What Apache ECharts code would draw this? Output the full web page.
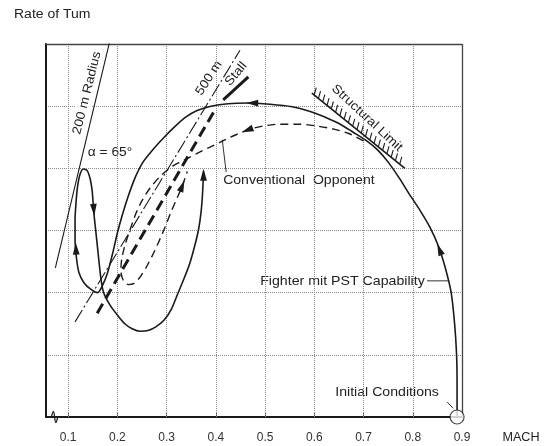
<!DOCTYPE html>
<html><head><meta charset="utf-8">
<script src="https://cdn.jsdelivr.net/npm/echarts@6/dist/echarts.min.js"></script>
<style>html,body{margin:0;padding:0;background:#fff}#c{width:546px;height:446px}</style>
</head><body><div id="c"></div>
<script>
// ---- tick / grid values ----
const machTicks = [0.1,0.2,0.3,0.4,0.5,0.6,0.7,0.8,0.9];
const machGrid  = [0.1,0.2,0.3,0.4,0.5,0.6,0.7,0.8];
// ---- Fighter with PST capability (solid) ----
const pstMach = [0.890,0.890,0.889,0.885,0.878,0.866,0.852,0.835,0.815,0.795,0.772,0.750,0.728,0.705,0.679,0.650,0.620,0.590,0.555,0.510,0.465,0.425,0.390,0.362,0.338,0.315,0.295,0.272,0.252,0.236,0.222,0.210,0.200,0.190,0.180,0.170,0.160,
  0.145,0.132,0.122,0.117,0.114,0.114,0.116,0.119,0.124,0.131,0.139,0.145,0.149,0.152,0.156,0.160,0.164,0.167,0.170,0.174,
  0.185,0.200,0.215,0.230,0.246,0.262,0.278,0.295,0.310,0.322,0.335,0.347,0.357,0.365,0.370,0.373,0.375];
const pstRate = [0.00,0.50,1.00,1.50,2.00,2.40,2.75,3.05,3.32,3.56,3.85,4.10,4.30,4.45,4.58,4.72,4.83,4.92,4.99,5.03,5.05,5.04,5.00,4.93,4.82,4.66,4.50,4.30,4.10,3.85,3.55,3.25,2.96,2.62,2.32,2.12,2.00,
  2.06,2.16,2.32,2.55,2.85,3.17,3.45,3.70,3.90,3.99,3.96,3.82,3.62,3.30,3.00,2.70,2.40,2.20,2.06,1.96,
  1.80,1.64,1.50,1.42,1.38,1.39,1.45,1.56,1.74,1.97,2.22,2.47,2.75,3.02,3.30,3.60,3.95];
// ---- Conventional opponent (dashed) ----
const convMach = [0.700,0.670,0.640,0.606,0.570,0.530,0.495,0.466,0.435,0.409,0.385,0.362,0.340,0.313,0.288,0.266,0.250,0.238,0.226,0.216,0.209,0.207,0.212,0.222,0.234,0.246,0.258,0.270,0.283,0.295,0.308,0.320,0.331,0.342];
const convRate = [4.44,4.56,4.63,4.68,4.71,4.71,4.68,4.62,4.52,4.42,4.33,4.24,4.15,4.04,3.88,3.68,3.48,3.28,3.02,2.78,2.55,2.35,2.20,2.13,2.15,2.25,2.40,2.58,2.80,3.02,3.28,3.50,3.70,3.95];
// ---- straight reference lines [m1, v1, m2, v2] ----
const radius200 = [0.074,2.40,0.185,6.06];
const radius500 = [0.114,1.53,0.449,5.90];
const stallLine = [0.159,1.67,0.398,4.94];
const stallTick = [0.415,5.10,0.466,5.47];
const structLimit = [0.595,5.21,0.784,4.00];
// ---- arrows: position and a point it heads toward ----
const pstArrows  = [[0.855,2.68,0.848,2.82],[0.476,5.05,0.460,5.05],[0.116,2.69,0.115,2.90],[0.152,3.35,0.154,3.15],[0.375,3.88,0.375,4.10]];
const convArrows = [[0.466,4.62,0.450,4.57],[0.331,3.70,0.337,3.82]];
// ---- leader lines ----
const leaders = [[0.421,3.94,0.413,4.46],[0.829,2.19,0.872,2.19],[0.870,0.24,0.882,0.14]];
const initial = [0.890,0.0];
const breakMark = [[0.066,0],[0.070,0.09],[0.075,-0.09],[0.079,0]];

const zip = (a,b)=>a.map((x,i)=>[x,b[i]]);
const seg = s=>[[s[0],s[1]],[s[2],s[3]]];
const INK = '#1a1a1a';
const FONT = '"Liberation Sans", Arial, Helvetica, sans-serif';

function arrowItem(params, api){
  const p = api.coord([api.value(0), api.value(1)]);
  const q = api.coord([api.value(2), api.value(3)]);
  const a = Math.atan2(q[1]-p[1], q[0]-p[0]);
  const L=7, W=3.4, c=Math.cos(a), s=Math.sin(a);
  const tip=[p[0]+c*L, p[1]+s*L];
  const b1=[p[0]-c*L*0.7 - s*W, p[1]-s*L*0.7 + c*W];
  const b2=[p[0]-c*L*0.7 + s*W, p[1]-s*L*0.7 - c*W];
  return {type:'polygon', shape:{points:[tip,b1,b2]}, style:{fill:INK}};
}
function hatchItem(params, api){
  const p=api.coord([api.value(0),api.value(1)]), q=api.coord([api.value(2),api.value(3)]);
  const dx=q[0]-p[0], dy=q[1]-p[1], len=Math.hypot(dx,dy);
  const ux=dx/len, uy=dy/len, nx=uy, ny=-ux;
  const ch=[{type:'line', shape:{x1:p[0],y1:p[1],x2:q[0],y2:q[1]}, style:{stroke:INK, lineWidth:1.6}}];
  for(let t=3; t<len-2; t+=5.5){
    const x=p[0]+ux*t, y=p[1]+uy*t;
    ch.push({type:'line', shape:{x1:x,y1:y,x2:x+nx*7-ux*3, y2:y+ny*7-uy*3}, style:{stroke:INK,lineWidth:1.1}});
  }
  return {type:'group', children:ch};
}
function lineSeries(data, width, type, extra){
  return Object.assign({type:'line', data, showSymbol:false, symbol:'none', silent:true,
    lineStyle:{color:INK, width, type}, z:5}, extra||{});
}
function txt(x, y, text, size, rot, align, sx, bg){
  const style = {text, fontSize:size, fill:'#222', fontFamily:FONT, align:align||'center', verticalAlign:'middle'};
  if(bg!==false){ style.backgroundColor='#fff'; style.padding=[1,2]; if(align==='left') x -= 2; }
  return {type:'text', x, y, z:3, rotation:(rot||0)*Math.PI/180, scaleX:sx||1.1, style};
}

const chart = echarts.init(document.getElementById('c'), null, {renderer:'canvas'});
chart.setOption({
  animation:false,
  backgroundColor:'#fff',
  grid:{left:46, right:84, top:44, bottom:29},
  xAxis:{type:'value', min:0.055, max:0.9,
    axisLine:{show:true, lineStyle:{color:INK, width:2}},
    axisTick:{show:true, inside:true, length:4, customValues:machTicks, lineStyle:{color:'#555'}},
    axisLabel:{customValues:machTicks, margin:15, color:'#333', fontSize:12, fontFamily:FONT,
      formatter:v=>String(Math.round(v*10)/10)},
    splitLine:{show:false}},
  yAxis:{type:'value', min:0, max:6, interval:1,
    axisLine:{show:true, lineStyle:{color:INK, width:2}},
    axisTick:{show:false}, axisLabel:{show:false},
    splitLine:{show:true, lineStyle:{color:'#8a8a8a', width:1, type:'dotted'}}},
  series:[
    {type:'line', data:[], silent:true,
      markLine:{symbol:'none', silent:true, label:{show:false},
        lineStyle:{color:'#8a8a8a', width:1, type:'dotted'},
        data: machGrid.map(m=>({xAxis:m}))}},
    {type:'line', data:[], silent:true,
      markLine:{symbol:'none', silent:true, label:{show:false},
        lineStyle:{color:'#444', width:1.3, type:'solid'},
        data:[{xAxis:0.9},{yAxis:6}]}},
    lineSeries(zip(pstMach,pstRate), 1.6, 'solid', {smooth:0.25}),
    lineSeries(zip(convMach,convRate), 1.4, [8,5], {smooth:0.25}),
    lineSeries(seg(radius200), 1.1, 'solid'),
    lineSeries(seg(radius500), 1.1, [14,3,2,3]),
    lineSeries(seg(stallLine), 3, [11,6]),
    lineSeries(seg(stallTick), 3, 'solid'),
    ...leaders.map(l=>lineSeries(seg(l), 0.9, 'solid')),
    lineSeries(breakMark, 1.3, 'solid', {smooth:0.4, clip:false, z:6}),
    {type:'custom', renderItem:hatchItem, data:[structLimit], z:6, silent:true},
    {type:'custom', renderItem:arrowItem, data:pstArrows.concat(convArrows), z:7, silent:true},
    {type:'scatter', data:[initial], symbol:'circle', symbolSize:14, z:8, silent:true, clip:false,
      itemStyle:{color:'#fff', borderColor:INK, borderWidth:1.2}}
  ],
  graphic:[
    txt(14, 15, 'Rate of Tum', 12.5, 0, 'left', 1.12, false),
    txt(521, 438, 'MACH', 12, 0, 'center', 1.05, false),
    txt(87, 93, '200 m Radius', 12.5, 76),
    txt(209, 78, '500 m', 12.5, 57),
    txt(236, 74, 'Stall', 12.5, 50),
    txt(367, 118, 'Structural Limit', 12.5, -43),
    txt(110, 153, 'α = 65°', 12.5, 0),
    txt(223, 180, 'Conventional  Opponent', 13, 0, 'left', 1.08),
    txt(260, 281, 'Fighter mit PST Capability', 13, 0, 'left', 1.09),
    txt(335, 393, 'Initial Conditions', 12.5, 0, 'left', 1.13)
  ]
});
</script></body></html>
